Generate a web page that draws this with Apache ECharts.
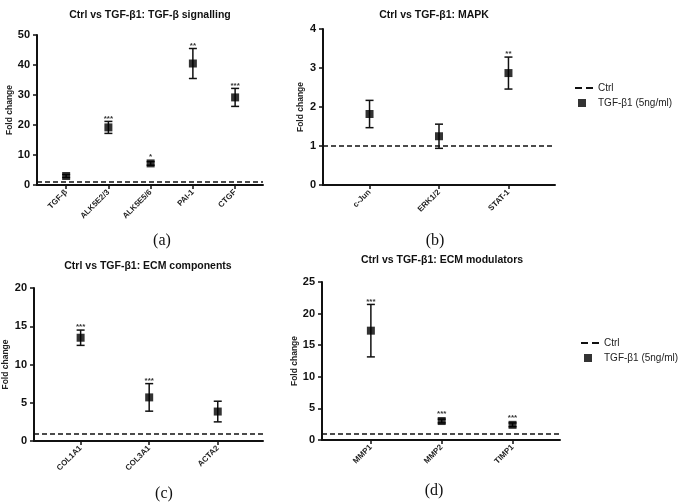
<!DOCTYPE html>
<html><head><meta charset="utf-8">
<script src="https://cdn.jsdelivr.net/npm/echarts@6/dist/echarts.min.js"></script>
<style>html,body{margin:0;padding:0;background:#fff}#c{width:680px;height:503px}</style>
</head><body><div id="c"></div>
<script>
// Panel (a) TGF-beta signalling
const catsA = ['TGF-β', 'ALK5E2/3', 'ALK5E5/6', 'PAI-1', 'CTGF'];
const meanA = [3.0, 19.2, 7.2, 40.5, 29.2];
const errA  = [0.5, 2.0, 0.6, 5.0, 3.0];
const sigA  = ['', '***', '*', '**', '***'];
// Panel (b) MAPK
const catsB = ['c-Jun', 'ERK1/2', 'STAT-1'];
const meanB = [1.82, 1.25, 2.87];
const errB  = [0.35, 0.31, 0.41];
const sigB  = ['', '', '**'];
// Panel (c) ECM components
const catsC = ['COL1A1', 'COL3A1', 'ACTA2'];
const meanC = [13.5, 5.7, 3.85];
const errC  = [1.0, 1.8, 1.35];
const sigC  = ['***', '***', ''];
// Panel (d) ECM modulators
const catsD = ['MMP1', 'MMP2', 'TIMP1'];
const meanD = [17.3, 3.0, 2.4];
const errD  = [4.15, 0.3, 0.3];
const sigD  = ['***', '***', '***'];
// Control level
const ctrlLevel = 1;
// Titles / captions
const titles = ['Ctrl vs TGF-β1: TGF-β signalling', 'Ctrl vs TGF-β1: MAPK', 'Ctrl vs TGF-β1: ECM components', 'Ctrl vs TGF-β1: ECM modulators'];
const captions = ['(a)', '(b)', '(c)', '(d)'];
const yMax = [50, 4, 20, 25];
const yStep = [10, 1, 5, 5];
const yName = 'Fold change';
const ctrlName = 'Ctrl';
const trtName = 'TGF-β1 (5ng/ml)';

const panels = [
  {cats: catsA, mean: meanA, err: errA, sig: sigA},
  {cats: catsB, mean: meanB, err: errB, sig: sigB},
  {cats: catsC, mean: meanC, err: errC, sig: sigC},
  {cats: catsD, mean: meanD, err: errD, sig: sigD}
];

const FONT = '"Liberation Sans", Arial, sans-serif';
const grids = [
  {left: 37, top: 35, width: 226, height: 150},
  {left: 323, top: 29, width: 232, height: 156},
  {left: 33, top: 288, width: 230, height: 153},
  {left: 322, top: 282, width: 238, height: 158}
];
const xRange = [[-0.69, 4.66], [-0.67, 2.67], [-0.68, 2.66], [-0.69, 2.67]];
const nameGaps = [21, 18, 24, 22];
const titlePos = [[150, 10], [434, 10], [148, 261], [442, 255]];
const capPos = [[162, 233], [435, 233], [164, 486], [434, 483]];

const axisLine = {show: true, onZero: false, lineStyle: {color: '#111', width: 2}};

const xAxis = panels.map((p, i) => ({
  type: 'value', gridIndex: i, min: xRange[i][0], max: xRange[i][1],
  splitLine: {show: false},
  axisLine: axisLine,
  axisTick: {show: true, customValues: p.cats.map((c, k) => k), length: 4, lineStyle: {color: '#111', width: 1.5}},
  axisLabel: {
    customValues: p.cats.map((c, k) => k), rotate: 45, margin: 6,
    formatter: v => p.cats[Math.round(v)] || '',
    fontFamily: FONT, fontSize: 8, fontWeight: 'bold', color: '#222'
  }
}));
const yAxis = panels.map((p, i) => ({
  type: 'value', gridIndex: i, min: 0, max: yMax[i], interval: yStep[i],
  splitLine: {show: false},
  axisLine: axisLine,
  axisTick: {show: true, length: 4, lineStyle: {color: '#111', width: 1.5}},
  axisLabel: {fontFamily: FONT, fontSize: 11, fontWeight: 'bold', color: '#111', margin: 7},
  name: yName, nameLocation: 'middle', nameGap: nameGaps[i],
  nameTextStyle: {fontFamily: FONT, fontSize: 8.5, fontWeight: 'bold', color: '#222'}
}));

const series = [];
panels.forEach((p, i) => {
  series.push({
    name: ctrlName, type: 'line', xAxisIndex: i, yAxisIndex: i, data: [],
    symbol: 'none', showSymbol: false, lineStyle: {color: '#111', width: 1.5, type: [5, 3]}, itemStyle: {color: '#111'},
    markLine: {silent: true, symbol: 'none', label: {show: false},
      lineStyle: {color: '#111', width: 1.5, type: [5, 3]}, data: [{yAxis: ctrlLevel}]}
  });
  series.push({
    type: 'custom', xAxisIndex: i, yAxisIndex: i, silent: true, z: 3,
    data: p.mean.map((m, k) => [k, m, p.err[k]]),
    encode: {x: 0, y: 1},
    renderItem: (params, api) => {
      const x = api.value(0), m = api.value(1), e = api.value(2);
      const s = p.sig[params.dataIndex];
      const hi = api.coord([x, m + e]);
      const lo = api.coord([x, m - e]);
      const mid = api.coord([x, m]);
      const cw = 4;
      const st = {stroke: '#111', lineWidth: 1.5};
      const kids = [
        {type: 'line', shape: {x1: hi[0], y1: hi[1], x2: lo[0], y2: lo[1]}, style: st},
        {type: 'line', shape: {x1: hi[0] - cw, y1: hi[1], x2: hi[0] + cw, y2: hi[1]}, style: st},
        {type: 'line', shape: {x1: lo[0] - cw, y1: lo[1], x2: lo[0] + cw, y2: lo[1]}, style: st}
      ];
      if (s) {
        const top = Math.min(hi[1], mid[1] - 4);
        kids.push({type: 'text', style: {text: s, x: mid[0], y: top + 1, align: 'center', verticalAlign: 'bottom',
          font: 'bold 8px ' + FONT, fill: '#333'}});
      }
      return {type: 'group', children: kids};
    }
  });
  series.push({
    name: trtName, type: 'scatter', xAxisIndex: i, yAxisIndex: i, z: 4,
    symbol: 'rect', symbolSize: 8,
    itemStyle: {color: '#000'},
    data: p.mean.map((m, k) => [k, m])
  });
});

const legendBase = {
  orient: 'vertical', itemWidth: 18, itemHeight: 8, itemGap: 5, padding: 0,
  data: [
    {name: ctrlName, icon: 'path://M0,0M18,8M0,3h7v2h-7zM11,3h7v2h-7z', itemStyle: {color: '#111', borderWidth: 0}},
    {name: trtName, icon: 'path://M0,0M18,8M3,0h8v8h-8z', itemStyle: {color: '#000', borderWidth: 0}}
  ],
  textStyle: {fontFamily: FONT, fontSize: 10, color: '#222', lineHeight: 10},
  selectedMode: false
};

const option = {
  animation: false,
  backgroundColor: '#fff',
  title: titles.map((t, i) => ({
    text: t, left: titlePos[i][0], top: titlePos[i][1], textAlign: 'center', padding: 0,
    textStyle: {fontFamily: FONT, fontSize: 10.5, fontWeight: 'bold', color: '#111'}
  })).concat(captions.map((t, i) => ({
    text: t, left: capPos[i][0], top: capPos[i][1], textAlign: 'center', padding: 0,
    textStyle: {fontFamily: '"Liberation Serif", "Times New Roman", serif', fontSize: 16, fontWeight: 'normal', color: '#111'}
  }))),
  legend: [
    Object.assign({left: 575, top: 83}, legendBase),
    Object.assign({left: 581, top: 338}, legendBase)
  ],
  grid: grids,
  xAxis: xAxis,
  yAxis: yAxis,
  series: series
};
const chart = echarts.init(document.getElementById('c'), null, {renderer: 'canvas'});
chart.setOption(option);
</script>
</body></html>
